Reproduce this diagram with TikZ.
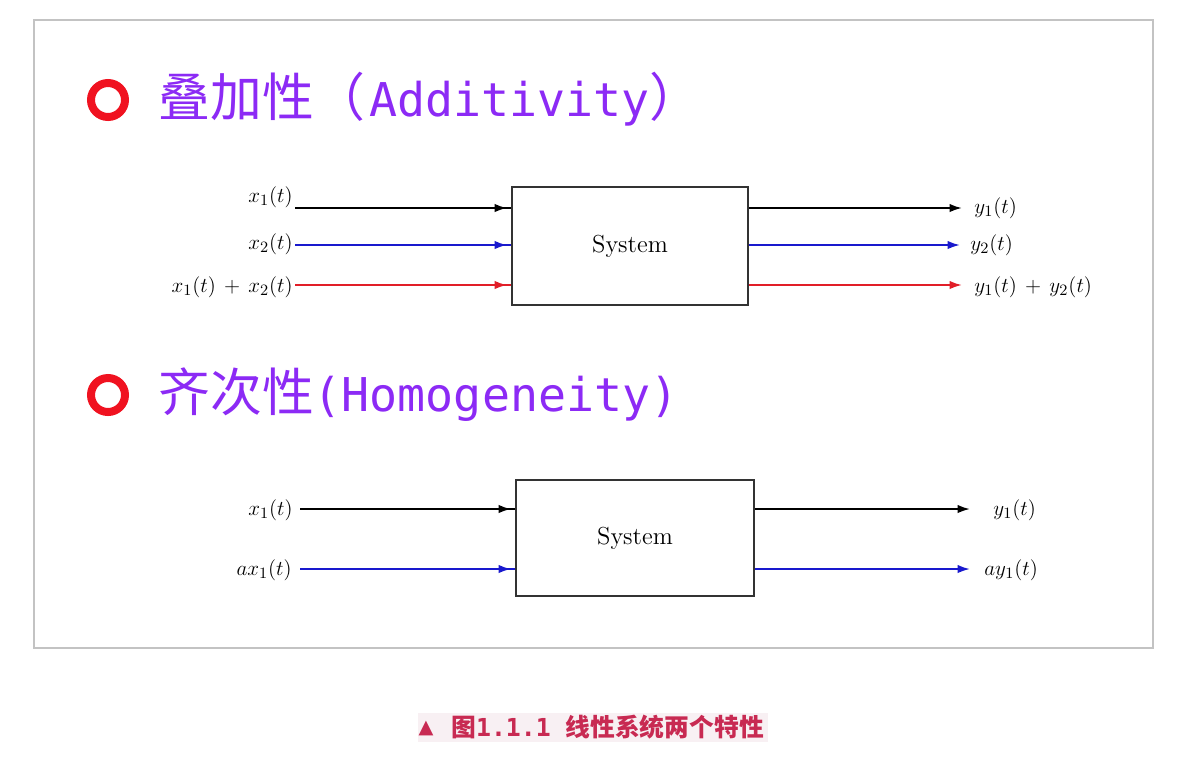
\documentclass[tikz,border=0pt]{standalone}
\usepackage{fontspec}
\usepackage{amsmath}
\usetikzlibrary{arrows.meta,decorations.markings}
\newfontfamily\cjk{Noto Sans CJK SC}
\newfontfamily\monofam{DejaVu Sans Mono}
\newfontfamily\symfam{DejaVu Sans}
\newcommand{\latinpart}[1]{{\monofam\fontsize{26.5pt}{32pt}\selectfont #1}}
\definecolor{titlepurple}{RGB}{140,42,245}
\definecolor{ringred}{RGB}{240,18,32}
\definecolor{sigblue}{RGB}{25,25,205}
\definecolor{sigred}{RGB}{225,30,40}
\definecolor{capred}{RGB}{200,42,82}
\definecolor{capbg}{RGB}{248,240,243}
\definecolor{framegray}{RGB}{195,195,195}
\tikzstyle{ring}=[circle,draw=ringred,line width=0.16cm,minimum size=0.68cm,inner sep=0pt]
\tikzstyle{title}=[anchor=base west,inner sep=0pt,text=titlepurple,font=\cjk\fontsize{29.5pt}{34pt}\selectfont]
\tikzstyle{sysbox}=[draw=black!80,line width=1.1pt,fill=white,font=\fontsize{14pt}{16pt}\selectfont]
\tikzstyle{lab}=[inner sep=0pt,font=\fontsize{12.5pt}{14pt}\selectfont]
\tikzstyle{sig}=[line width=1.1pt,decoration={markings,mark=at position -0.08cm with {\arrow{Latex[length=0.25cm,width=0.17cm]}}},postaction={decorate}]
\tikzstyle{outsig}=[line width=1.1pt,-{Latex[length=0.25cm,width=0.17cm]}]

\begin{document}
\begin{tikzpicture}[x=0.02cm,y=-0.02cm]
\useasboundingbox (0,0) rectangle (1202,762);
\draw[framegray,line width=0.03cm] (34,20) rectangle (1153,648);

% additivity
\node[ring] at (108,100) (ringA) {};
\node[title] at (158,116) (addT) {叠加性（\kern2pt\latinpart{Additivity}）};
\node[sysbox,minimum width=4.72cm,minimum height=2.36cm] at (630,246) (sysA) {System};
\node[lab,anchor=east] at (293,197) (x1) {$x_1(t)$};
\node[lab,anchor=east] at (293,244) (x2) {$x_2(t)$};
\node[lab,anchor=east] at (293,287) (x12) {$x_1(t)\,+\,x_2(t)$};
\coordinate (inA1) at (295,208);
\coordinate (inA2) at (295,245);
\coordinate (inA3) at (295,285);
\draw[sig] (inA1) -- (inA1 -| sysA.west);
\draw[sig,sigblue] (inA2) -- (inA2 -| sysA.west);
\draw[sig,sigred] (inA3) -- (inA3 -| sysA.west);
\coordinate (outA1) at (962,208);
\coordinate (outA2) at (960,245);
\coordinate (outA3) at (962,285);
\draw[outsig] (outA1 -| sysA.east) -- (outA1);
\draw[outsig,sigblue] (outA2 -| sysA.east) -- (outA2);
\draw[outsig,sigred] (outA3 -| sysA.east) -- (outA3);
\node[lab,anchor=west] at (974,208) (y1) {$y_1(t)$};
\node[lab,anchor=west] at (970,245) (y2) {$y_2(t)$};
\node[lab,anchor=west] at (974,287) (y12) {$y_1(t)\,+\,y_2(t)$};

% homogeneity
\node[ring] at (108,395) (ringB) {};
\node[title] at (158,411) (homT) {齐次性\latinpart{(Homogeneity)}};
\node[sysbox,minimum width=4.76cm,minimum height=2.32cm] at (635,538) (sysB) {System};
\node[lab,anchor=east] at (293,510) (xb1) {$x_1(t)$};
\node[lab,anchor=east] at (292,570) (axb1) {$ax_1(t)$};
\coordinate (inB1) at (300,509);
\coordinate (inB2) at (300,569);
\draw[sig] (inB1) -- (inB1 -| sysB.west);
\draw[sig,sigblue] (inB2) -- (inB2 -| sysB.west);
\coordinate (outB1) at (970,509);
\coordinate (outB2) at (970,569);
\draw[outsig] (outB1 -| sysB.east) -- (outB1);
\draw[outsig,sigblue] (outB2 -| sysB.east) -- (outB2);
\node[lab,anchor=west] at (993,510) (yb1) {$y_1(t)$};
\node[lab,anchor=west] at (984,570) (ayb1) {$ay_1(t)$};

% caption
\fill[capbg] (418,713) rectangle (768,742);
\node[text=capred,inner sep=0pt,font=\symfam\fontsize{11pt}{13pt}\selectfont] at (426,728) (tri) {▲};
\node[anchor=west,inner sep=0pt,text=capred,font=\cjk\bfseries\fontsize{14.1pt}{16pt}\selectfont] at (451,727) (cap) {图{\monofam\bfseries 1.1.1 }线性系统两个特性};
\end{tikzpicture}
\end{document}
